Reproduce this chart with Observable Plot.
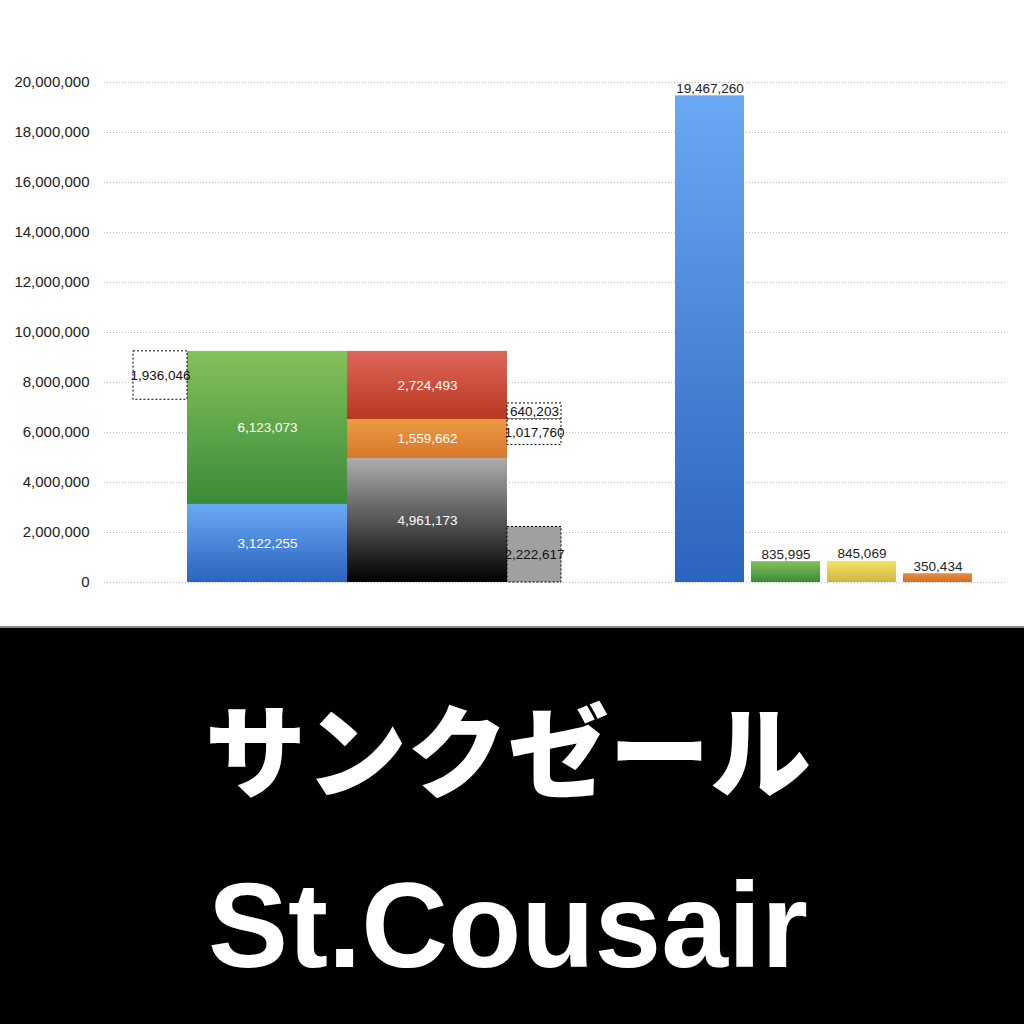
<!DOCTYPE html>
<html><head><meta charset="utf-8">
<script src="https://cdn.jsdelivr.net/npm/d3@7"></script>
<script src="https://cdn.jsdelivr.net/npm/@observablehq/plot@0.6"></script>
<style>
html,body{margin:0;padding:0;background:#fff;width:1024px;height:1024px;overflow:hidden}
#chart svg{display:block}
#band{display:block}
</style></head><body>
<div id="chart"></div>
<svg id="band" width="1024" height="398" xmlns="http://www.w3.org/2000/svg"></svg>
<script>
// ---- data ----
const yTicks = [0, 2000000, 4000000, 6000000, 8000000, 10000000, 12000000, 14000000, 16000000, 18000000, 20000000];
const stackAValues = [3122255, 6123073];          // bottom -> top
const stackAColors = ["blue", "green"];
const stackBValues = [4961173, 1559662, 2724493]; // bottom -> top
const stackBColors = ["black", "orange", "red"];
const boxLeftValue = 1936046;
const boxRightValues = [640203, 1017760];
const grayValue = 2222617;
const rightValues = [19467260, 835995, 845069, 350434];
const rightColors = ["blue", "green", "yellow", "orange2"];
const titleJa = "サンクゼール";
const titleEn = "St.Cousair";

// ---- styles ----
const gradients = {
  blue: ["#6aa9f3", "#2c63bf"],
  green: ["#84c25a", "#3a8a38"],
  red: ["#de675b", "#b8381f"],
  orange: ["#ec9b43", "#d8762d"],
  black: ["#adadad", "#000000"],
  yellow: ["#f3e563", "#d3b343"],
  orange2: ["#e78d3d", "#d46e2a"]
};
const fmt = d3.format(",");

// ---- layout (horizontal slots, in x-scale units) ----
const slot = {boxL: [29, 83], stackA: [83, 243], stackB: [243, 403], boxR: [403, 457]};
const rightStart = 571, rightWidth = 69, rightStep = 76;

const rects = [];
let acc = 0;
stackAValues.forEach((v, i) => { rects.push({x1: slot.stackA[0], x2: slot.stackA[1], y1: acc, y2: acc + v, grad: stackAColors[i], v, inner: true}); acc += v; });
const totalA = acc;
acc = 0;
stackBValues.forEach((v, i) => { rects.push({x1: slot.stackB[0], x2: slot.stackB[1], y1: acc, y2: acc + v, grad: stackBColors[i], v, inner: true}); acc += v; });
const orangeTop = stackBValues[0] + stackBValues[1];
rightValues.forEach((v, i) => rects.push({x1: rightStart + i * rightStep, x2: rightStart + i * rightStep + rightWidth, y1: 0, y2: v, grad: rightColors[i], v, inner: false}));

const boxes = [
  {x1: slot.boxL[0], x2: slot.boxL[1], y1: totalA - boxLeftValue, y2: totalA, v: boxLeftValue, fill: "#ffffff"},
  {x1: slot.boxR[0], x2: slot.boxR[1], y1: orangeTop, y2: orangeTop + boxRightValues[0], v: boxRightValues[0], fill: "#ffffff"},
  {x1: slot.boxR[0], x2: slot.boxR[1], y1: orangeTop - boxRightValues[1], y2: orangeTop, v: boxRightValues[1], fill: "#ffffff"},
  {x1: slot.boxR[0], x2: slot.boxR[1], y1: 0, y2: grayValue, v: grayValue, fill: "#a0a0a0"}
];

const defsMark = () => {
  const defs = d3.create("svg:defs");
  for (const [k, [c0, c1]] of Object.entries(gradients)) {
    const g = defs.append("linearGradient").attr("id", "g-" + k).attr("x1", 0).attr("y1", 0).attr("x2", 0).attr("y2", 1);
    g.append("stop").attr("offset", 0).attr("stop-color", c0);
    g.append("stop").attr("offset", 1).attr("stop-color", c1);
  }
  return defs.node();
};

const chart = Plot.plot({
  width: 1024,
  height: 626,
  marginLeft: 104,
  marginRight: 19,
  marginTop: 82,
  marginBottom: 44,
  style: {fontFamily: "'Liberation Sans', Arial, sans-serif", fontSize: "15px", background: "#ffffff", color: "#222"},
  x: {domain: [0, 901], axis: null},
  y: {domain: [0, 20000000], ticks: yTicks, tickFormat: fmt, tickSize: 0, tickPadding: 15, label: null},
  color: {type: "identity"},
  marks: [
    defsMark,
    Plot.ruleY(yTicks, {stroke: "#bcbcbc", strokeDasharray: "1,2", strokeWidth: 1}),
    Plot.rect(rects, {x1: "x1", x2: "x2", y1: "y1", y2: "y2", fill: d => `url(#g-${d.grad})`}),
    Plot.rect(boxes, {x1: "x1", x2: "x2", y1: "y1", y2: "y2", fill: "fill", stroke: "#000", strokeWidth: 1, strokeDasharray: "2,2"}),
    Plot.text(rects.filter(d => d.inner), {x: d => (d.x1 + d.x2) / 2, y: d => (d.y1 + d.y2) / 2, text: d => fmt(d.v), fill: "#ffffff", fontSize: 13.5, ariaLabel: "inner-labels"}),
    Plot.text(rects.filter(d => !d.inner), {x: d => (d.x1 + d.x2) / 2, y: "y2", text: d => fmt(d.v), fill: "#222", fontSize: 13.5, lineAnchor: "bottom", dy: -3}),
    Plot.text(boxes, {x: d => (d.x1 + d.x2) / 2, y: d => (d.y1 + d.y2) / 2, text: d => fmt(d.v), fill: "#111", fontSize: 13.5})
  ]
});
chart.querySelectorAll('g[aria-label="inner-labels"] text').forEach(t => t.style.filter = "drop-shadow(0px 1px 0.6px rgba(0,0,0,0.75))");
document.getElementById("chart").append(chart);

// ---- bottom band ----
const band = d3.select("#band");
band.append("rect").attr("x", 0).attr("y", 0).attr("width", 1024).attr("height", 398).attr("fill", "#000");
band.append("rect").attr("x", 0).attr("y", 0).attr("width", 1024).attr("height", 2).attr("fill", "#8a8a8a");
band.append("text").attr("x", 508).attr("y", 164).attr("text-anchor", "middle")
  .attr("fill", "#fff").attr("font-family", "'Noto Sans CJK JP', sans-serif").attr("font-weight", 900).attr("font-size", 101)
  .text(titleJa);
band.append("text").attr("x", 508).attr("y", 341).attr("text-anchor", "middle")
  .attr("fill", "#fff").attr("font-family", "'Liberation Sans', Arial, sans-serif").attr("font-weight", 700).attr("font-size", 120)
  .text(titleEn);
</script>
</body></html>
